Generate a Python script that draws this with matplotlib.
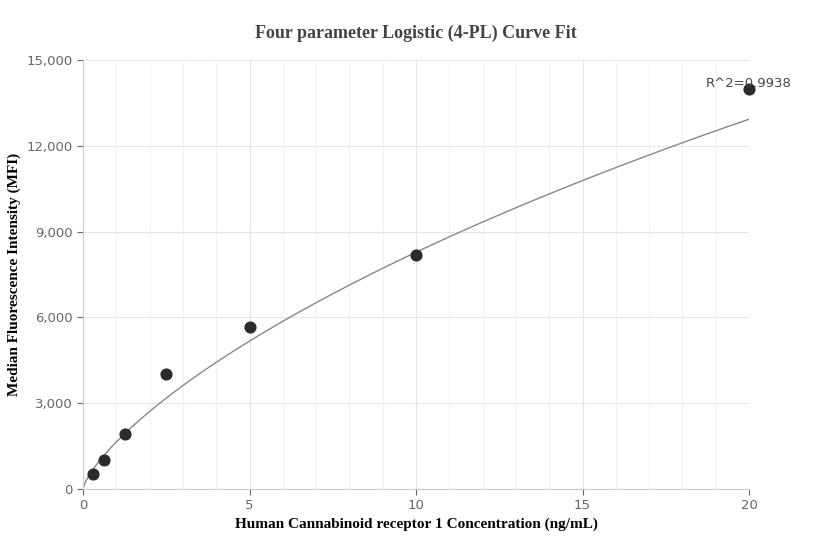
import numpy as np
import matplotlib.pyplot as plt
from matplotlib.ticker import FuncFormatter, MultipleLocator

# standard points
conc = [0.3125, 0.625, 1.25, 2.5, 5, 10, 20]
mfi = [520, 1000, 1930, 4030, 5680, 8180, 13980]

# 4PL parameters (a, b, c, d) estimated from the drawn curve
a4, b4, c4, d4 = 0.0, 0.74, 185.0, 80000.0
r2_text = "R^2=0.9938"

fig = plt.figure(figsize=(8.32, 5.6), dpi=100)
ax = fig.add_axes([83/832, 1-489/560, (749-83)/832, (489-60)/560])

xs = np.linspace(0.0, 20, 400)
ys = d4 + (a4 - d4) / (1 + (xs / c4) ** b4)
ax.plot(xs, ys, color="#888888", lw=1, zorder=2)
ax.scatter(conc, mfi, s=60, color="#2b2b2b", zorder=3, clip_on=False)
ax.text(conc[-1], mfi[-1] - 20, r2_text, ha="center", va="bottom", fontsize=9.5, color="#444444")

ax.set_xlim(0, 20)
ax.set_ylim(0, 15000)
ax.xaxis.set_major_locator(MultipleLocator(5))
ax.xaxis.set_minor_locator(MultipleLocator(1))
ax.yaxis.set_major_locator(MultipleLocator(3000))
ax.yaxis.set_major_formatter(FuncFormatter(lambda v, p: f"{int(v):,}"))
ax.grid(True, which="major", color="#e3e6ee", lw=0.8)
ax.grid(True, which="minor", axis="x", color="#f0f2f6", lw=0.8)
ax.set_axisbelow(True)
for s in ["top", "right"]:
    ax.spines[s].set_visible(False)
for s in ["left", "bottom"]:
    ax.spines[s].set_color("#cccccc")
ax.tick_params(which="both", colors="#666666", labelsize=9.5, length=4)
ax.tick_params(which="minor", length=0)

ax.set_title("Four parameter Logistic (4-PL) Curve Fit", family="Liberation Serif", weight="bold",
             fontsize=13, color="#444444", pad=16)
ax.set_xlabel("Human Cannabinoid receptor 1 Concentration (ng/mL)", family="Liberation Serif",
              weight="bold", fontsize=11)
ax.set_ylabel("Median Fluorescence Intensity (MFI)", family="Liberation Serif", weight="bold",
              fontsize=11)

fig.savefig("out.png", dpi=100)
